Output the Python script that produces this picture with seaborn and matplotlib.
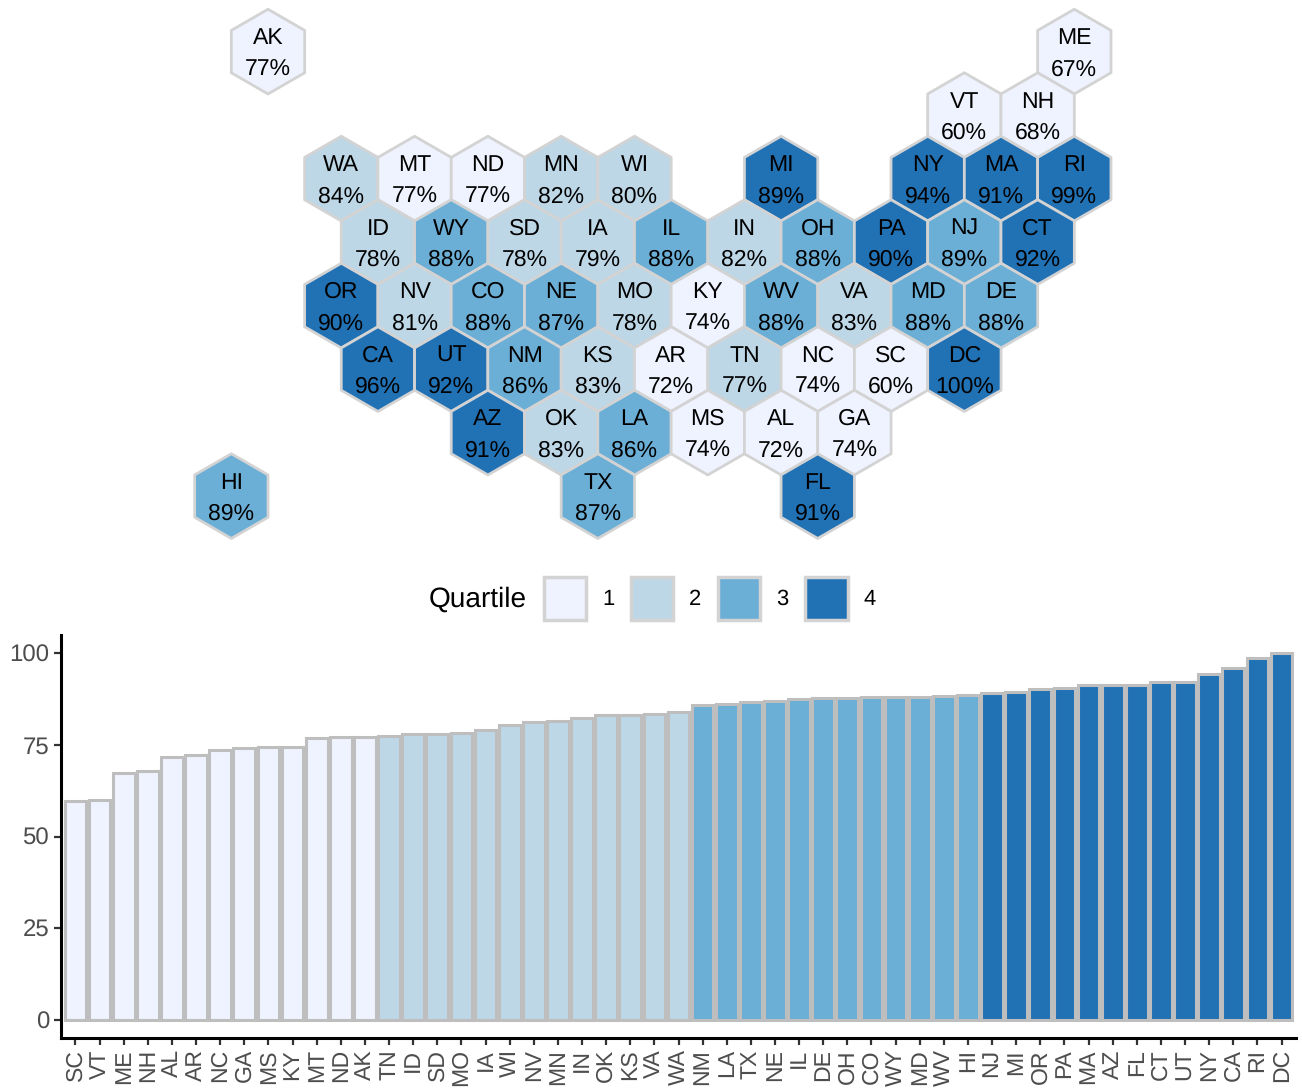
import pandas as pd
import matplotlib
matplotlib.use("Agg")
import matplotlib.pyplot as plt
from matplotlib.patches import Patch
import seaborn as sns

# sorted like the bars, low to high
states = ["SC", "VT", "ME", "NH", "AL", "AR", "NC", "GA", "MS", "KY", "MT", "ND", "AK",
          "TN", "ID", "SD", "MO", "IA", "WI", "NV", "MN", "IN", "OK", "KS", "VA", "WA",
          "NM", "LA", "TX", "NE", "IL", "DE", "OH", "CO", "WY", "MD", "WV", "HI",
          "NJ", "MI", "OR", "PA", "MA", "AZ", "FL", "CT", "UT", "NY", "CA", "RI", "DC"]
values = [59.8, 60.0, 67.2, 67.8, 71.7, 72.2, 73.7, 74.1, 74.3, 74.4, 76.8, 77.1, 77.2,
          77.4, 77.9, 77.9, 78.3, 79.0, 80.3, 81.2, 81.6, 82.4, 83.2, 83.3, 83.4, 84.0,
          85.8, 86.2, 86.7, 87.0, 87.6, 87.8, 87.9, 88.0, 88.2, 88.2, 88.4, 88.7,
          89.2, 89.4, 90.2, 90.4, 91.3, 91.4, 91.4, 92.1, 92.1, 94.3, 96.0, 98.6, 100.0]
quartiles = [1] * 13 + [2] * 13 + [3] * 12 + [4] * 13

# tile map grid: col counts half steps, row counts down from the top
hex_states = ["AK", "ME", "VT", "NH",
              "WA", "MT", "ND", "MN", "WI", "MI", "NY", "MA", "RI",
              "ID", "WY", "SD", "IA", "IL", "IN", "OH", "PA", "NJ", "CT",
              "OR", "NV", "CO", "NE", "MO", "KY", "WV", "VA", "MD", "DE",
              "CA", "UT", "NM", "KS", "AR", "TN", "NC", "SC", "DC",
              "AZ", "OK", "LA", "MS", "AL", "GA",
              "HI", "TX", "FL"]
hex_col = [-2, 20, 17, 19,
           0, 2, 4, 6, 8, 12, 16, 18, 20,
           1, 3, 5, 7, 9, 11, 13, 15, 17, 19,
           0, 2, 4, 6, 8, 10, 12, 14, 16, 18,
           1, 3, 5, 7, 9, 11, 13, 15, 17,
           4, 6, 8, 10, 12, 14,
           -3, 7, 13]
hex_row = [0, 0, 1, 1,
           2, 2, 2, 2, 2, 2, 2, 2, 2,
           3, 3, 3, 3, 3, 3, 3, 3, 3, 3,
           4, 4, 4, 4, 4, 4, 4, 4, 4, 4,
           5, 5, 5, 5, 5, 5, 5, 5, 5,
           6, 6, 6, 6, 6, 6,
           7, 7, 7]
# the map colours NJ one class lower than the bars do
hex_quartile = [1, 1, 1, 1,
                2, 1, 1, 2, 2, 4, 4, 4, 4,
                2, 3, 2, 2, 3, 2, 3, 4, 3, 4,
                4, 2, 3, 3, 2, 1, 3, 2, 3, 3,
                4, 4, 3, 2, 1, 2, 1, 1, 4,
                4, 2, 3, 1, 1, 1,
                3, 3, 4]

quartile_colors = ["#EFF3FF", "#BDD7E7", "#6BAED6", "#2171B5"]
quartile_labels = [1, 2, 3, 4]

sns.set_theme(style="ticks")
plt.rcParams["font.family"] = ["Liberation Sans", "DejaVu Sans"]
plt.rcParams["text.hinting"] = "no_hinting"
plt.rcParams["text.hinting_factor"] = 1

W, H = 1302, 1089
palette = dict(zip(quartile_labels, quartile_colors))

bars = pd.DataFrame({"state": states, "value": values, "quartile": quartiles})
tiles = pd.DataFrame({"state": hex_states, "col": hex_col, "row": hex_row, "quartile": hex_quartile})
tiles = tiles.merge(bars[["state", "value"]], on="state")

fig = plt.figure(figsize=(W / 100, H / 100), dpi=100)

# map
ax_map = fig.add_axes([0, 1 - 560 / H, 1, 560 / H])
sns.scatterplot(data=tiles, x="col", y="row", hue="quartile", palette=palette, marker="h",
                s=3720, edgecolor="#D3D3D3", linewidth=2, legend=False, clip_on=False, ax=ax_map)
ax_map.set_xlim(-341.3 / 36.65, (W - 341.3) / 36.65)
ax_map.set_ylim((560 - 51.6) / 63.5, -51.6 / 63.5)
ax_map.axis("off")
for _, t in tiles.iterrows():
    ax_map.text(t["col"], t["row"] - 0.21, t["state"], ha="center", va="center", fontsize=16.5, color="black")
    ax_map.text(t["col"], t["row"] + 0.285, f"{t['value']:.0f}%", ha="center", va="center", fontsize=16.5, color="black")

# legend
handles = [Patch(facecolor=c, edgecolor="#D3D3D3", linewidth=2.5) for c in quartile_colors]
fig.legend(handles, quartile_labels, ncol=4, frameon=False, fontsize=16, labelcolor="black",
           loc="center left", bbox_to_anchor=(544 / W, 1 - 598.5 / H),
           handlelength=1.9, handleheight=2.6, handletextpad=0.72, columnspacing=0.75,
           borderpad=0, borderaxespad=0)
fig.text(429 / W, 1 - 599 / H, "Quartile", fontsize=20.3, ha="left", va="center", color="black")

# bars
ax_bar = fig.add_axes([61 / W, 1 - 1038 / H, (1296 - 61) / W, (1038 - 635) / H])
sns.barplot(data=bars, x="state", y="value", hue="quartile", palette=palette, order=states,
            dodge=False, width=0.9, edgecolor="#BEBEBE", linewidth=2.2, saturation=1,
            legend=False, ax=ax_bar)
ax_bar.set_xlim(-0.6, 50.6)
ax_bar.set_ylim(-5, 105)
ax_bar.set_yticks([0, 25, 50, 75, 100])
ax_bar.set_xlabel("")
ax_bar.set_ylabel("")
ax_bar.tick_params(axis="y", labelsize=17, labelcolor="#4D4D4D", length=5, width=1.6, color="#333333", pad=3.5)
ax_bar.tick_params(axis="x", labelsize=16.5, labelcolor="#4D4D4D", length=5, width=1.6, color="#333333", pad=3,
                   labelrotation=90)
sns.despine(ax=ax_bar)
for side in ["left", "bottom"]:
    ax_bar.spines[side].set_linewidth(2.2)
    ax_bar.spines[side].set_color("black")

fig.savefig("out.png", dpi=100)
